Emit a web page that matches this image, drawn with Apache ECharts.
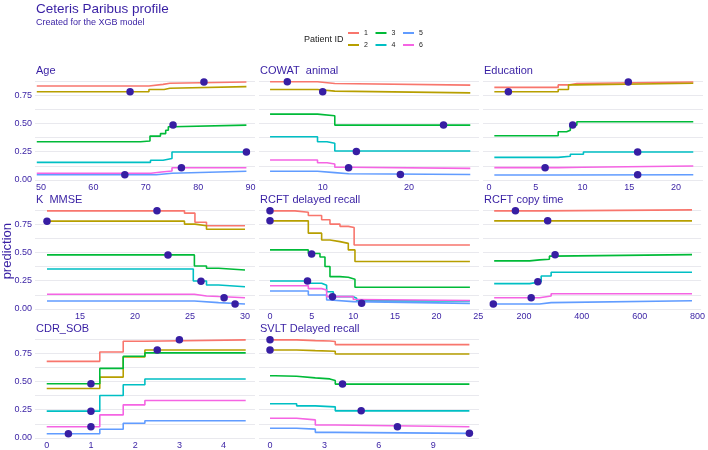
<!DOCTYPE html>
<html><head><meta charset="utf-8">
<script src="https://cdn.jsdelivr.net/npm/echarts@6/dist/echarts.min.js"></script>
<style>html,body{margin:0;padding:0;background:#fff}#c{width:708px;height:450px}</style>
</head><body><div id="c"></div>
<script>
const patients = ['1','2','3','4','5','6'];
const colors = ['#F8766D','#B79F00','#00BA38','#00BFC4','#619CFF','#F564E3'];
const panelNames = ['Age','COWAT  animal','Education','K  MMSE','RCFT delayed recall','RCFT copy time','CDR_SOB','SVLT Delayed recall'];
const yTicks = [0, 0.25, 0.5, 0.75];

// Age
const age1 = [[49.2,0.83],[70.6,0.845],[73.3,0.855],[74.6,0.866],[89.2,0.866]];
const age2 = [[49.2,0.78],[70.6,0.80],[73.5,0.81],[74.6,0.825],[89.2,0.825]];
const age3 = [[49.2,0.338],[69.0,0.345],[70.8,0.388],[72.8,0.41],[73.8,0.44],[74.3,0.47],[75.1,0.485],[89.2,0.485]];
const age4 = [[49.2,0.156],[70.9,0.175],[73.3,0.19],[75.0,0.247],[89.2,0.247]];
const age5 = [[49.2,0.047],[72.0,0.06],[75.0,0.077],[89.2,0.077]];
const age6 = [[49.2,0.059],[71.0,0.07],[73.0,0.08],[75.0,0.108],[89.2,0.108]];
const ageDots = [[81.1,0.866],[67.0,0.78],[75.2,0.485],[89.2,0.247],[66.0,0.047],[76.8,0.108]];
const ageTicks = [50,60,70,80,90];

// COWAT animal
const cow1 = [[3.9,0.868],[9.4,0.853],[11.4,0.838],[27.1,0.838]];
const cow2 = [[3.9,0.80],[9.4,0.785],[11.4,0.77],[27.1,0.77]];
const cow3 = [[3.9,0.582],[9.4,0.568],[11.4,0.485],[27.1,0.485]];
const cow4 = [[3.9,0.382],[9.4,0.338],[10.5,0.324],[11.4,0.256],[27.1,0.252]];
const cow5 = [[3.9,0.077],[9.4,0.065],[11.4,0.055],[13.0,0.048],[27.1,0.048]];
const cow6 = [[3.9,0.177],[9.4,0.152],[10.5,0.141],[11.4,0.112],[13.0,0.103],[27.1,0.103]];
const cowDots = [[5.9,0.868],[10.0,0.78],[24.0,0.485],[13.9,0.252],[19.0,0.048],[13.0,0.108]];
const cowTicks = [10,20];

// Education
const edu1 = [[0.57,0.818],[7.4,0.84],[8.5,0.853],[9.4,0.866],[21.85,0.866]];
const edu2 = [[0.57,0.78],[7.4,0.80],[8.5,0.84],[9.4,0.855],[21.85,0.855]];
const edu3 = [[0.57,0.391],[7.4,0.426],[8.3,0.44],[8.7,0.485],[9.4,0.515],[21.85,0.515]];
const edu4 = [[0.57,0.2],[7.4,0.21],[8.7,0.228],[10.1,0.247],[21.85,0.247]];
const edu5 = [[0.57,0.044],[7.4,0.047],[21.85,0.047]];
const edu6 = [[0.57,0.109],[7.4,0.112],[10.0,0.124],[21.85,0.124]];
const eduDots = [[14.9,0.866],[2.07,0.78],[8.95,0.485],[15.9,0.247],[15.9,0.047],[6.0,0.109]];
const eduTicks = [0,5,10,15,20];

// K MMSE
const mmse1 = [[12,0.867],[24.5,0.847],[25.45,0.767],[26.5,0.735],[30,0.735]];
const mmse2 = [[12,0.776],[24.5,0.75],[25.45,0.735],[26.5,0.705],[30,0.705]];
const mmse3 = [[12,0.478],[25.4,0.38],[26.5,0.36],[27.6,0.345],[30,0.345]];
const mmse4 = [[12,0.354],[25.3,0.248],[26.5,0.212],[27.6,0.197],[30,0.197]];
const mmse5 = [[12,0.071],[25.4,0.056],[27.6,0.044],[30,0.044]];
const mmse6 = [[12,0.13],[25.4,0.115],[26.5,0.11],[27.6,0.10],[30,0.10]];
const mmseDots = [[22.0,0.867],[12.0,0.776],[23.0,0.478],[26.0,0.245],[29.1,0.044],[28.1,0.10]];
const mmseTicks = [15,20,25,30];

// RCFT delayed recall
const rd1 = [[0,0.867],[3.0,0.855],[4.6,0.826],[6.2,0.788],[7.2,0.75],[8.4,0.73],[9.4,0.72],[10.1,0.566],[24,0.566]];
const rd2 = [[0,0.779],[4.6,0.67],[6.2,0.61],[7.2,0.595],[8.4,0.58],[9.4,0.522],[10.2,0.419],[24,0.419]];
const rd3 = [[0,0.522],[4.6,0.49],[6.0,0.46],[6.6,0.375],[7.2,0.286],[8.4,0.28],[9.4,0.263],[10.2,0.192],[24,0.192]];
const rd4 = [[0,0.248],[4.8,0.227],[6.2,0.21],[6.8,0.153],[7.6,0.109],[10.0,0.095],[10.4,0.072],[24,0.072]];
const rd5 = [[0,0.159],[4.6,0.124],[6.8,0.08],[7.2,0.065],[10.0,0.05],[24,0.05]];
const rd6 = [[0,0.206],[4.6,0.18],[6.2,0.168],[6.8,0.109],[10.0,0.084],[10.4,0.075],[24,0.075]];
const rdDots = [[0,0.867],[0,0.779],[5.0,0.487],[4.5,0.248],[11.0,0.05],[7.5,0.109]];
const rdTicks = [0,5,10,15,20,25];

// RCFT copy time
const rc1 = [[97,0.867],[254,0.876],[781,0.876]];
const rc2 = [[97,0.779],[781,0.779]];
const rc3 = [[97,0.425],[219.5,0.434],[254,0.44],[288,0.467],[299,0.48],[781,0.48]];
const rc4 = [[97,0.224],[219.5,0.241],[259.6,0.292],[294,0.325],[781,0.325]];
const rc5 = [[97,0.044],[254,0.056],[294,0.073],[781,0.073]];
const rc6 = [[97,0.10],[254,0.115],[294,0.135],[781,0.135]];
const rcDots = [[170.5,0.867],[282,0.779],[307.6,0.48],[248,0.241],[94,0.044],[225,0.10]];
const rcTicks = [200,400,600,800];

// CDR_SOB
const cdr1 = [[0,0.677],[1.2,0.76],[1.73,0.855],[2.22,0.867],[4.5,0.867]];
const cdr2 = [[0,0.437],[1.2,0.538],[1.73,0.716],[2.22,0.778],[4.5,0.778]];
const cdr3 = [[0,0.479],[1.2,0.615],[1.73,0.722],[2.22,0.752],[4.5,0.752]];
const cdr4 = [[0,0.237],[1.2,0.376],[1.73,0.47],[2.22,0.521],[4.5,0.521]];
const cdr5 = [[0,0.038],[1.2,0.077],[1.73,0.13],[2.22,0.153],[4.5,0.153]];
const cdr6 = [[0,0.10],[1.2,0.204],[1.73,0.293],[2.22,0.331],[4.5,0.331]];
const cdrDots = [[3.0,0.867],[2.5,0.778],[1.0,0.479],[1.0,0.237],[0.49,0.038],[1.0,0.10]];
const cdrTicks = [0,1,2,3,4];

// SVLT Delayed recall
const sv1 = [[0,0.867],[1.47,0.86],[2.5,0.857],[3.3,0.853],[3.6,0.825],[11,0.825]];
const sv2 = [[0,0.778],[1.47,0.772],[2.5,0.766],[3.6,0.742],[11,0.742]];
const sv3 = [[0,0.55],[0.28,0.545],[1.47,0.531],[2.5,0.522],[3.3,0.508],[3.6,0.476],[11,0.476]];
const sv4 = [[0,0.302],[1.47,0.284],[2.5,0.275],[3.6,0.24],[11,0.24]];
const sv5 = [[0,0.086],[1.47,0.078],[2.5,0.05],[3.6,0.041],[11,0.041]];
const sv6 = [[0,0.175],[1.47,0.16],[2.5,0.115],[3.6,0.10],[11,0.10]];
const svDots = [[0,0.867],[0,0.778],[4.0,0.476],[5.03,0.24],[11.0,0.041],[7.03,0.10]];
const svTicks = [0,3,6,9];

const panels = [
  {lines:[age1,age2,age3,age4,age5,age6], dots:ageDots, ticks:ageTicks, min:48.86, max:90.84},
  {lines:[cow1,cow2,cow3,cow4,cow5,cow6], dots:cowDots, ticks:cowTicks, min:2.62, max:28.11},
  {lines:[edu1,edu2,edu3,edu4,edu5,edu6], dots:eduDots, ticks:eduTicks, min:-0.642, max:22.89},
  {lines:[mmse1,mmse2,mmse3,mmse4,mmse5,mmse6], dots:mmseDots, ticks:mmseTicks, min:10.91, max:30.91},
  {lines:[rd1,rd2,rd3,rd4,rd5,rd6], dots:rdDots, ticks:rdTicks, min:-1.32, max:25.09},
  {lines:[rc1,rc2,rc3,rc4,rc5,rc6], dots:rcDots, ticks:rcTicks, min:58.4, max:812.6},
  {lines:[cdr1,cdr2,cdr3,cdr4,cdr5,cdr6], dots:cdrDots, ticks:cdrTicks, min:-0.265, max:4.71},
  {lines:[sv1,sv2,sv3,sv4,sv5,sv6], dots:svDots, ticks:svTicks, min:-0.607, max:11.53}
];

const FONT = "'Liberation Sans', Arial, sans-serif";
const INK = '#371ea3';
const colLeft = [35, 259, 483];
const rowTop = [77, 206, 335];
const PW = 220, PH = 103;

const grid = [], xAxis = [], yAxis = [], series = [], titles = [];
panels.forEach((p, k) => {
  const col = k % 3, row = Math.floor(k / 3);
  grid.push({left: colLeft[col], top: rowTop[row], width: PW, height: PH});
  titles.push({text: panelNames[k], left: colLeft[col] + 1, top: rowTop[row] - 12, padding: 0,
    textStyle: {fontSize: 11, fontWeight: 'normal', color: INK, fontFamily: FONT}});
  xAxis.push({gridIndex: k, type: 'value', min: p.min, max: p.max,
    axisLine: {show: false}, axisTick: {show: false}, splitLine: {show: false},
    axisLabel: {customValues: p.ticks, fontSize: 9, color: INK, margin: 3, fontFamily: FONT}});
  yAxis.push({gridIndex: k, type: 'value', min: 0, max: 0.91, interval: 0.125,
    axisLine: {show: false}, axisTick: {show: false},
    axisLabel: {show: col === 0, customValues: yTicks, fontSize: 9, color: INK, margin: 3, fontFamily: FONT,
      formatter: v => v.toFixed(2)},
    splitLine: {show: true, showMaxLine: false, lineStyle: {color: '#e9e9ee', width: 1}}});
  p.lines.forEach((ln, i) => {
    series.push({type: 'line', name: patients[i], xAxisIndex: k, yAxisIndex: k, data: ln,
      step: 'end', symbol: 'none', silent: true,
      lineStyle: {width: 1.6, color: colors[i]}, itemStyle: {color: colors[i]}});
  });
  series.push({type: 'scatter', name: 'obs', xAxisIndex: k, yAxisIndex: k, data: p.dots,
    symbolSize: 7.5, z: 5, silent: true, itemStyle: {color: INK, opacity: 1}});
});

const chart = echarts.init(document.getElementById('c'));
chart.setOption({
  animation: false,
  backgroundColor: '#fff',
  textStyle: {fontFamily: FONT},
  title: titles,
  legend: {data: ['1','3','5','2','4','6'], left: 348, top: 28, width: 86, orient: 'horizontal',
    padding: 0, itemWidth: 11, itemHeight: 2, itemGap: 2, icon: 'rect',
    textStyle: {fontSize: 7, color: '#222', width: 9.5, lineHeight: 10, fontFamily: FONT}},
  graphic: [
    {type: 'text', left: 36, top: 2, style: {text: 'Ceteris Paribus profile', fontSize: 13.5, fill: INK, fontFamily: FONT}},
    {type: 'text', left: 36, top: 18, style: {text: 'Created for the XGB model', fontSize: 9, fill: INK, fontFamily: FONT}},
    {type: 'text', left: 304, top: 35, style: {text: 'Patient ID', fontSize: 9, fill: '#222', fontFamily: FONT}},
    {type: 'text', left: 1, top: 223, rotation: Math.PI / 2, style: {text: 'prediction', fontSize: 13, fill: INK, fontFamily: FONT}}
  ],
  grid, xAxis, yAxis, series
});
</script></body></html>
